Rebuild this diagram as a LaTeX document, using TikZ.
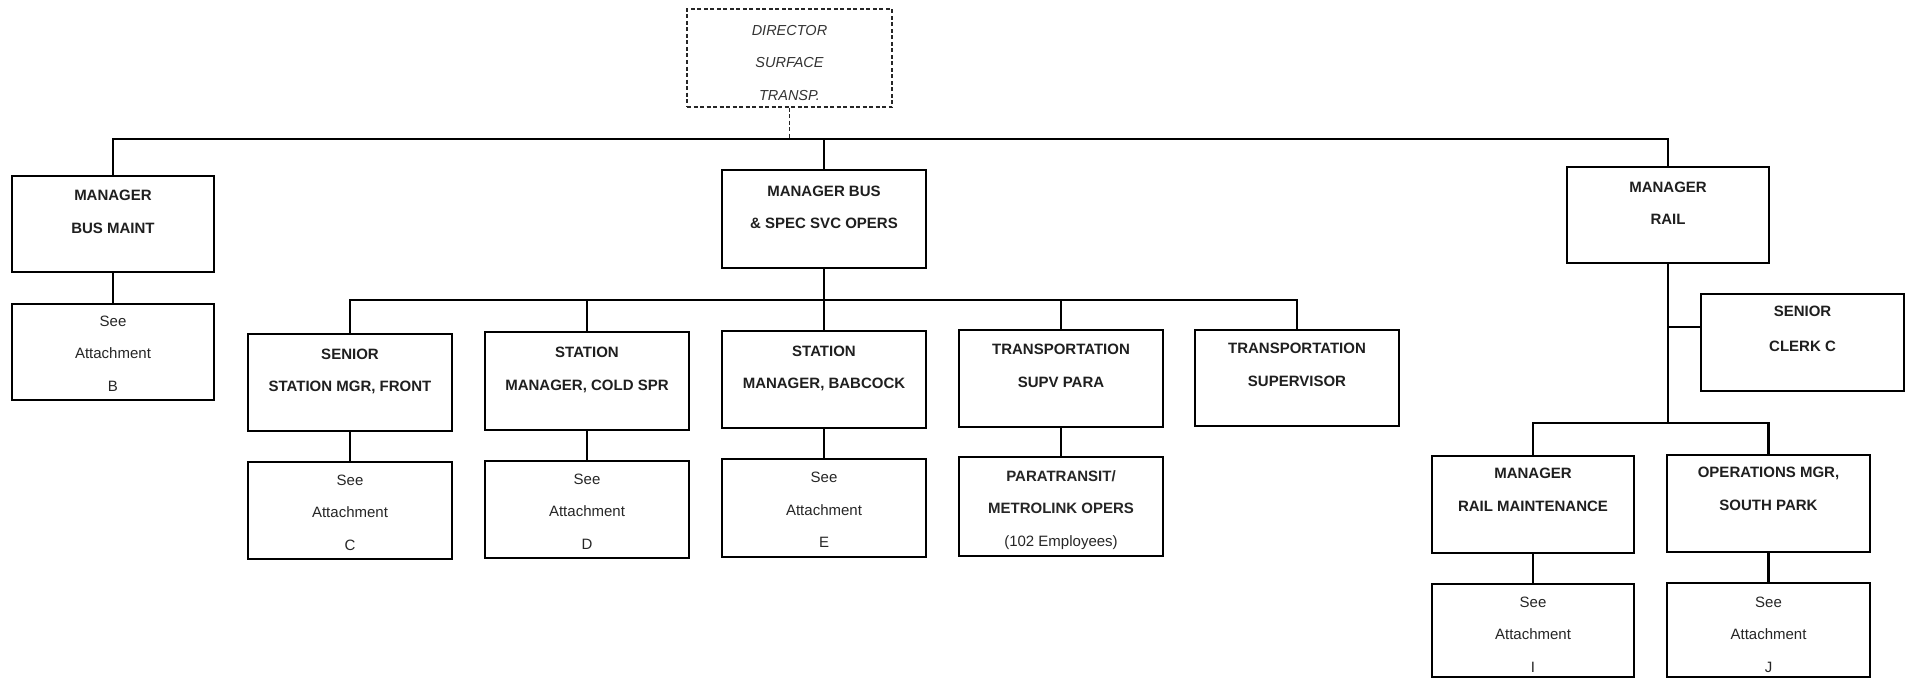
\documentclass[tikz,border=0pt]{standalone}
\usepackage{fontspec}
\setmainfont{Liberation Sans}
\begin{document}
\begin{tikzpicture}[x=1pt,y=-1pt,
  unit/.style={draw=black, line width=2.8pt, inner sep=0pt, fill=white},
  dashunit/.style={draw=black!85, line width=1.4pt, dash pattern=on 4pt off 2.5pt, inner sep=0pt},
  link/.style={draw=black, line width=2.6pt},
  dashlink/.style={draw=black!85, line width=1.6pt, dash pattern=on 4pt off 2.5pt},
  titletext/.style={anchor=base, inner sep=0pt, text=black!88,
    font=\fontsize{15}{32.5}\selectfont\bfseries},
  plaintext/.style={anchor=base, inner sep=0pt, text=black!85,
    font=\fontsize{15}{32.5}\selectfont},
  headtext/.style={anchor=base, inner sep=0pt, text=black!80,
    font=\fontsize{14.5}{32.5}\selectfont\itshape}]

\useasboundingbox (0,0) rectangle (1911,680);

% box: name, left, top, right, bottom, box style, text style, first baseline, lines
\newcommand\orgbox[9]{%
  \node[#6, minimum width={(#4-#2)*1pt}, minimum height={(#5-#3)*1pt}]
    (#1) at ({(#2+#4)/2},{(#3+#5)/2}) {};
  \node[#7] (#1-t) at ({(#2+#4)/2},#8) {\parbox[t]{196pt}{\centering #9}};
}

% top level
\orgbox{dir}{687}{9}{892}{107}{dashunit}{headtext}{35.2}{DIRECTOR\\SURFACE\\TRANSP.}
\orgbox{busmaint}{12}{176}{214}{272}{unit}{titletext}{200.7}{MANAGER\\BUS MAINT}
\orgbox{busops}{722}{170}{926}{268}{unit}{titletext}{196}{MANAGER BUS\\\& SPEC SVC OPERS}
\orgbox{rail}{1567}{167}{1769}{263}{unit}{titletext}{192}{MANAGER\\RAIL}

% bus maintenance
\orgbox{attB}{12}{304}{214}{400}{unit}{plaintext}{326.4}{See\\Attachment\\B}

% bus operations
\orgbox{front}{248}{334}{452}{431}{unit}{titletext}{359.4}{SENIOR\\STATION MGR, FRONT}
\orgbox{coldspr}{485}{332}{689}{430}{unit}{titletext}{357.7}{STATION\\MANAGER, COLD SPR}
\orgbox{babcock}{722}{331}{926}{428}{unit}{titletext}{356.4}{STATION\\MANAGER, BABCOCK}
\orgbox{supvpara}{959}{330}{1163}{427}{unit}{titletext}{354.7}{TRANSPORTATION\\SUPV PARA}
\orgbox{supv}{1195}{330}{1399}{426}{unit}{titletext}{353.7}{TRANSPORTATION\\SUPERVISOR}

\orgbox{attC}{248}{462}{452}{559}{unit}{plaintext}{485.4}{See\\Attachment\\C}
\orgbox{attD}{485}{461}{689}{558}{unit}{plaintext}{484}{See\\Attachment\\D}
\orgbox{attE}{722}{459}{926}{557}{unit}{plaintext}{482.7}{See\\Attachment\\E}
\orgbox{para}{959}{457}{1163}{556}{unit}{plaintext}{481.4}{\textbf{PARATRANSIT/}\\\textbf{METROLINK OPERS}\\(102 Employees)}

% rail
\orgbox{clerk}{1701}{294}{1904}{391}{unit}{titletext}{316.4}{SENIOR\\[2.5pt]CLERK C}
\orgbox{railmaint}{1432}{456}{1634}{553}{unit}{titletext}{478.7}{MANAGER\\RAIL MAINTENANCE}
\orgbox{southpark}{1667}{455}{1870}{552}{unit}{titletext}{477.7}{OPERATIONS MGR,\\SOUTH PARK}
\orgbox{attI}{1432}{584}{1634}{677}{unit}{plaintext}{607}{See\\Attachment\\I}
\orgbox{attJ}{1667}{583}{1870}{677}{unit}{plaintext}{607}{See\\Attachment\\J}

% connector levels
\coordinate (mainbar) at (0,139);
\coordinate (opsbar) at (0,300);
\coordinate (clerkjoin) at (1668,327);
\coordinate (railbar) at (0,423);

% director to managers
\draw[dashlink] (dir.south) -- (dir.south |- mainbar);
\draw[link] (busmaint.north) -- (busmaint.north |- mainbar) -| (rail.north);
\draw[link] (busops.north) -- (busops.north |- mainbar);

% bus maintenance
\draw[link] (busmaint.south) -- (attB.north);

% bus operations
\draw[link] (busops.south) -- (busops.south |- opsbar);
\draw[link] (front.north) -- (front.north |- opsbar) -| (supv.north);
\draw[link] (coldspr.north) -- (coldspr.north |- opsbar);
\draw[link] (babcock.north) -- (babcock.north |- opsbar);
\draw[link] (supvpara.north) -- (supvpara.north |- opsbar);
\draw[link] (front.south) -- (attC.north);
\draw[link] (coldspr.south) -- (attD.north);
\draw[link] (babcock.south) -- (attE.north);
\draw[link] (supvpara.south) -- (para.north);

% rail
\draw[link] (rail.south) -- (rail.south |- railbar);
\draw[link] (clerkjoin) -- (clerkjoin -| clerk.west);
\draw[link] (railmaint.north) -- (railmaint.north |- railbar) -| (southpark.north);
\draw[link] (railmaint.south) -- (attI.north);
\draw[link] (southpark.south) -- (attJ.north);
\end{tikzpicture}
\end{document}
